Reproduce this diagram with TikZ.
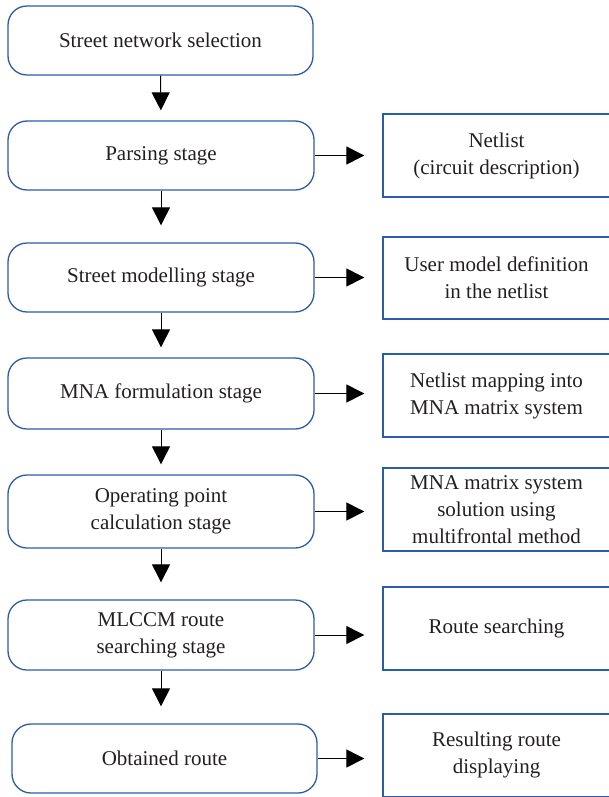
\documentclass[tikz,border=0pt]{standalone}
\usepackage{fontspec}
\setmainfont{Liberation Serif}
\newfontfamily\boxfont{Liberation Serif}
\usetikzlibrary{arrows.meta}
\definecolor{boxblue}{RGB}{44,92,168}
\definecolor{txt}{RGB}{35,31,32}
\begin{document}
\begin{tikzpicture}[x=1pt,y=-1pt,
  stage/.style={draw=boxblue, line width=1.3pt, rounded corners=19pt, align=center,
    font=\boxfont\fontsize{21}{27}\selectfont, text=txt, inner sep=0pt},
  outbox/.style={draw=boxblue, line width=1.3pt, align=center,
    font=\boxfont\fontsize{21}{27}\selectfont, text=txt, inner sep=0pt,
    minimum width=227pt, minimum height=83pt},
  flow/.style={draw=black, line width=1pt, -{Triangle[length=18pt,width=18pt]}, shorten >=#1},
  flow/.default=18pt]
\useasboundingbox (0,0) rectangle (608,797);
% left stages
\node[stage, minimum width=305pt, minimum height=69pt] (L1) at (160.5,40.5) {Street network selection};
\node[stage, minimum width=306pt, minimum height=69pt] (L2) at (161,155.5) {Parsing stage};
\node[stage, minimum width=306pt, minimum height=69pt] (L3) at (161,277.5) {Street modelling stage};
\node[stage, minimum width=306pt, minimum height=71pt] (L4) at (161,393.5) {MNA formulation stage};
\node[stage, minimum width=306pt, minimum height=73pt] (L5) at (161,511.5) {Operating point\\calculation stage};
\node[stage, minimum width=306pt, minimum height=70pt] (L6) at (161,635) {MLCCM route\\searching stage};
\node[stage, minimum width=305pt, minimum height=69pt] (L7) at (164.5,758.5) {Obtained route};
% right boxes
\node[outbox] (R1) at (496.5,155.5) {Netlist\\(circuit description)};
\node[outbox, minimum height=82pt] (R2) at (496.5,278) {User model definition\\in the netlist};
\node[outbox] (R3) at (496.5,395.5) {Netlist mapping into\\MNA matrix system};
\node[outbox] (R4) at (496.5,509.5) {MNA matrix system\\solution using\\multifrontal method};
\node[outbox] (R5) at (496.5,628.5) {Route searching};
\node[outbox, minimum height=82.5pt] (R6) at (496.5,755.25) {Resulting route\\displaying};
% vertical flow
\draw[flow=10pt] (L1.south) -- (L2.north);
\draw[flow=17pt] (L2.south) -- (L3.north);
\draw[flow=10pt] (L3.south) -- (L4.north);
\draw[flow=10pt] (L4.south) -- (L5.north);
\draw[flow=17pt] (L5.south) -- (L6.north);
\draw[flow=17pt] (L6.south) -- (L6.south |- L7.north);
% horizontal flow
\draw[flow] (L2.east) -- (L2.east -| R1.west);
\draw[flow] (L3.east) -- (L3.east -| R2.west);
\draw[flow] (L4.east) -- (L4.east -| R3.west);
\draw[flow] (L5.east) -- (L5.east -| R4.west);
\draw[flow] (L6.east) -- (L6.east -| R5.west);
\draw[flow] (L7.east) -- (L7.east -| R6.west);
\end{tikzpicture}
\end{document}
